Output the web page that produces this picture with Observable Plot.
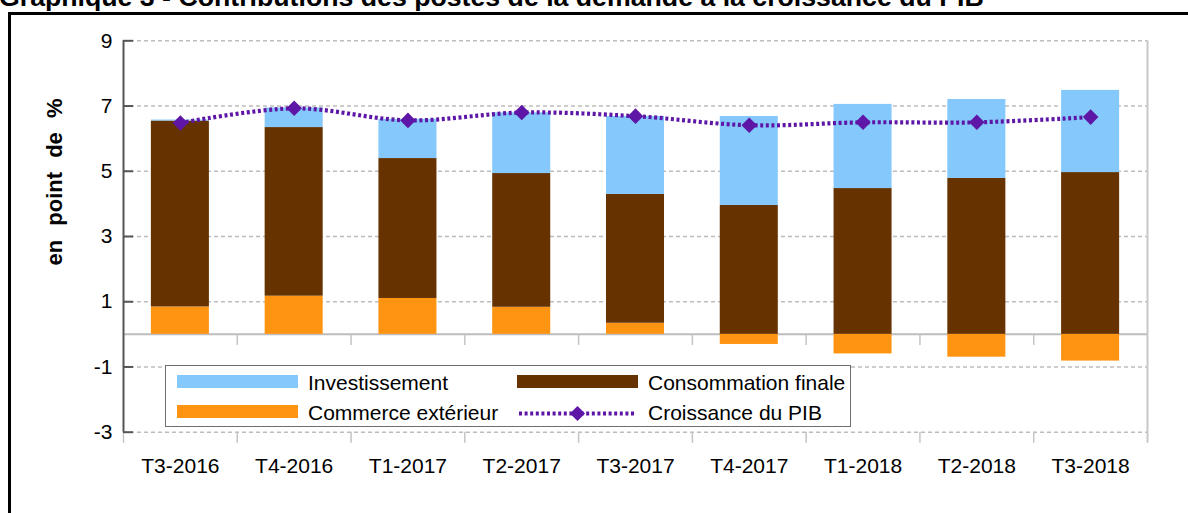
<!DOCTYPE html>
<html>
<head>
<meta charset="utf-8">
<script src="https://cdn.jsdelivr.net/npm/d3@7"></script>
<script src="https://cdn.jsdelivr.net/npm/@observablehq/plot@0.6"></script>
<style>
  html, body { margin: 0; padding: 0; background: #fff; }
  #wrap { position: relative; width: 1188px; height: 513px; overflow: hidden; background: #fff;
          font-family: "Liberation Sans", Arial, sans-serif; }
  #title { position: absolute; left: -1px; top: -18.5px; font-weight: bold; font-size: 26.7px;
           line-height: 30px; white-space: nowrap; color: #000; }
  #frame { position: absolute; left: 8px; top: 12px; width: 1300px; height: 600px;
           border-left: 3px solid #000; border-top: 3px solid #000; box-sizing: border-box; }
  #chart { position: absolute; left: 0; top: 0; }
  #ylabel { position: absolute; left: 55px; top: 181.5px; font-weight: bold; font-size: 22px;
            line-height: 22px; white-space: nowrap; word-spacing: 8px;
            transform: translate(-50%, -50%) rotate(-90deg); }
  #legend { position: absolute; left: 165px; top: 365px; width: 686px; height: 62px; box-sizing: border-box;
            border: 1px solid #6e6e6e; background: #fff; font-size: 21px; }
  .item { position: absolute; height: 20px; line-height: 20px; white-space: nowrap; }
  .sw { position: absolute; width: 121px; height: 13px; }
  .lab { position: absolute; top: -1px; }
</style>
</head>
<body>
<div id="wrap">
  <div id="title"></div>
  <div id="frame"></div>
  <div id="chart"></div>
  <div id="ylabel"></div>
  <div id="legend"></div>
</div>
<script>
const titleText = "Graphique 3 - Contributions des postes de la demande à la croissance du PIB";
const yLabel = "en point de %";
const categories = ["T3-2016","T4-2016","T1-2017","T2-2017","T3-2017","T4-2017","T1-2018","T2-2018","T3-2018"];
const commerce      = [0.84, 1.17, 1.10, 0.83, 0.34, -0.31, -0.60, -0.70, -0.82];
const consommation  = [5.70, 5.17, 4.29, 4.10, 3.95, 3.95, 4.47, 4.78, 4.96];
const investissement= [0.03, 0.60, 1.20, 1.86, 2.39, 2.73, 2.58, 2.42, 2.52];
const pib           = [6.48, 6.93, 6.56, 6.80, 6.69, 6.41, 6.50, 6.50, 6.66];
const yTicks = [-3, -1, 1, 3, 5, 7, 9];
const seriesNames = ["Commerce extérieur", "Consommation finale", "Investissement"];
const seriesColors = ["#FF9412", "#663300", "#84C8FC"];
const lineName = "Croissance du PIB";
const lineColor = "#5E16A7";

document.getElementById("title").textContent = titleText;
document.getElementById("ylabel").textContent = yLabel;

const seriesValues = [commerce, consommation, investissement];
const rows = categories.flatMap((c, i) => seriesNames.map((s, k) => ({cat: c, serie: s, v: seriesValues[k][i]})));
const pibRows = categories.map((c, i) => ({cat: c, v: pib[i]}));

const W = 1188, H = 513, ML = 123, MR = 41, MT = 40.3, MB = 81.3;
const plotW = W - ML - MR;
const step = plotW / categories.length;
const gridColor = "#bdbdbd";
const axisColor = "#555";

const chart = Plot.plot({
  width: W, height: H,
  marginLeft: ML, marginRight: MR, marginTop: MT, marginBottom: MB,
  x: {type: "band", domain: categories, paddingInner: 0.49, paddingOuter: 0.245, round: false, label: null},
  y: {domain: [-3, 9], label: null},
  color: {domain: seriesNames, range: seriesColors},
  style: {fontFamily: "'Liberation Sans', Arial, sans-serif", fontSize: "21px", color: "#000", background: "transparent", overflow: "visible"},
  marks: [
    Plot.gridY({ticks: yTicks, stroke: gridColor, strokeOpacity: 1, strokeWidth: 1.5, strokeDasharray: "4,3"}),
    Plot.ruleY([0], {stroke: gridColor, strokeWidth: 2}),
    // category boundary ticks (zero line and bottom)
    Plot.ruleX(categories.slice(1), {dx: -step / 2, y1: 0, y2: -0.34, stroke: "#c4c4c4", strokeWidth: 1.5}),
    Plot.ruleX(categories, {dx: -step / 2, y1: -3, y2: -3.34, stroke: "#c4c4c4", strokeWidth: 1.5}),
    Plot.ruleX(categories.slice(-1), {dx: step / 2, y1: -3.34, y2: 9, stroke: "#c8c8c8", strokeWidth: 2}),
    Plot.barY(rows, {x: "cat", y: "v", fill: "serie"}),
    Plot.line(pibRows, {x: "cat", y: "v", stroke: lineColor, strokeWidth: 4.2, strokeDasharray: "3,2.6", strokeLinecap: "butt", curve: "catmull-rom"}),
    Plot.dot(pibRows, {x: "cat", y: "v", symbol: "diamond2", r: 7, fill: lineColor}),
    // y axis line and inward ticks
    Plot.ruleX(categories.slice(0, 1), {dx: -step / 2, y1: -3, y2: 9, stroke: axisColor, strokeWidth: 2}),
    Plot.ruleY(yTicks, {stroke: axisColor, strokeWidth: 2, insetRight: plotW - 10}),
    Plot.axisY({ticks: yTicks, tickSize: 0, tickPadding: 11, tickFormat: d => String(d)}),
    Plot.axisX({tickSize: 0, tickPadding: 26})
  ]
});
document.getElementById("chart").appendChild(chart);

// legend
const legend = document.getElementById("legend");
const items = [
  {label: seriesNames[2], color: seriesColors[2], col: 0, row: 0},
  {label: seriesNames[1], color: seriesColors[1], col: 1, row: 0},
  {label: seriesNames[0], color: seriesColors[0], col: 0, row: 1},
  {label: lineName, color: lineColor, col: 1, row: 1, line: true}
];
const colX = [11, 351];
const rowY = [8, 38];
for (const it of items) {
  const d = document.createElement("div");
  d.className = "item";
  d.style.left = colX[it.col] + "px";
  d.style.top = rowY[it.row] + "px";
  if (it.line) {
    d.innerHTML = `<svg width="121" height="20" style="position:absolute;left:0;top:0">
      <line x1="2" x2="119" y1="9.5" y2="9.5" stroke="${it.color}" stroke-width="4" stroke-dasharray="3,2.6"/>
      <path d="M60.5,2 L68,9.5 L60.5,17 L53,9.5 Z" fill="${it.color}"/></svg>`;
  } else {
    const sw = document.createElement("div");
    sw.className = "sw";
    sw.style.background = it.color;
    sw.style.top = "1px";
    d.appendChild(sw);
  }
  const lab = document.createElement("div");
  lab.className = "lab";
  lab.style.left = "131px";
  lab.textContent = it.label;
  d.appendChild(lab);
  legend.appendChild(d);
}
</script>
</body>
</html>
